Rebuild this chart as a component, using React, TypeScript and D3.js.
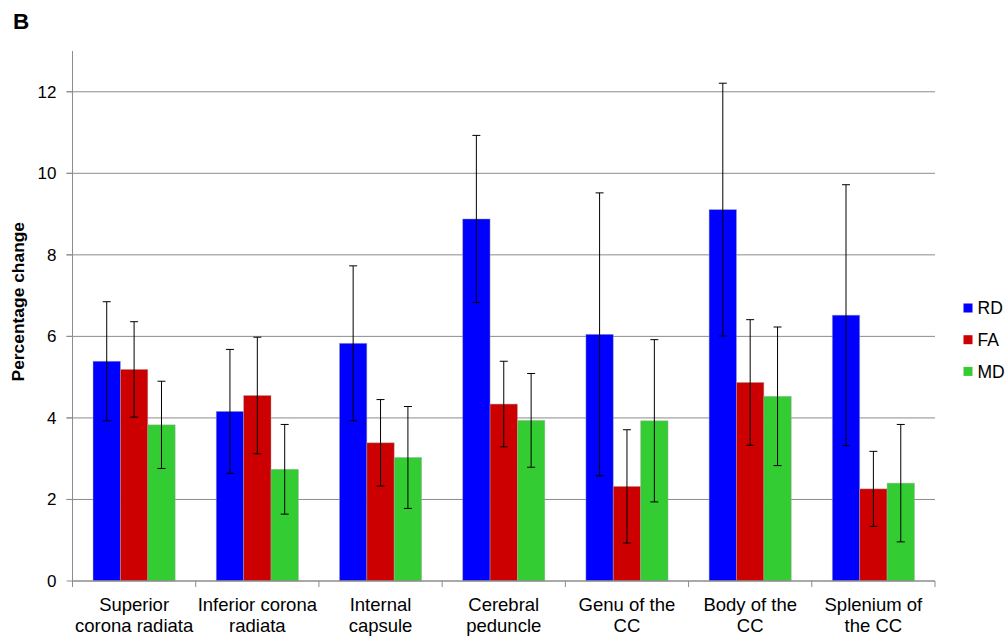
import React from "react";
import * as d3 from "d3";

// Regions of interest (two-line labels)
const categories: string[][] = [
  ["Superior", "corona radiata"],
  ["Inferior corona", "radiata"],
  ["Internal", "capsule"],
  ["Cerebral", "peduncle"],
  ["Genu of the", "CC"],
  ["Body of the", "CC"],
  ["Splenium of", "the CC"],
];

const seriesNames = ["RD", "FA", "MD"];
const seriesColors = ["#0000ff", "#cc0000", "#33cc33"];

// Mean percentage change per region
const rdValues = [5.39, 4.16, 5.83, 8.88, 6.05, 9.11, 6.52];
const faValues = [5.19, 4.55, 3.39, 4.34, 2.32, 4.87, 2.26];
const mdValues = [3.83, 2.74, 3.03, 3.94, 3.93, 4.53, 2.4];

// Error bar half-widths
const rdErrors = [1.46, 1.52, 1.9, 2.05, 3.47, 3.1, 3.2];
const faErrors = [1.17, 1.43, 1.06, 1.05, 1.39, 1.54, 0.92];
const mdErrors = [1.07, 1.1, 1.25, 1.15, 1.99, 1.7, 1.44];

const yTicks = [0, 2, 4, 6, 8, 10, 12];

const W = 1006;
const H = 637;
const plot = { left: 72.5, right: 935, top: 51, bottom: 581 };
const FONT = "'Liberation Sans', Arial, sans-serif";
const GRID = "#8c8c8c";

export default function App() {
  const values = [rdValues, faValues, mdValues];
  const errors = [rdErrors, faErrors, mdErrors];
  const idx = categories.map((_, i) => String(i));

  const x = d3
    .scaleBand<string>()
    .domain(idx)
    .range([plot.left, plot.right])
    .paddingInner(0)
    .paddingOuter(0);
  const step = x.bandwidth();
  const barW = step / 4.5;
  const inner = d3
    .scaleBand<string>()
    .domain(seriesNames)
    .range([0.75 * barW, 3.75 * barW]);

  const y = d3.scaleLinear().domain([0, 13]).range([plot.bottom, plot.top]);

  return (
    <svg
      width={W}
      height={H}
      style={{ position: "absolute", left: 0, top: 0, background: "#fff" }}
      fontFamily={FONT}
    >
      <rect width={W} height={H} fill="#fff" />
      {/* panel letter */}
      <text x={13} y={28.5} fontSize={22.5} fontWeight="bold" fill="#000">
        B
      </text>

      {/* horizontal gridlines */}
      {yTicks
        .filter((t) => t > 0)
        .map((t) => (
          <line
            key={"g" + t}
            x1={plot.left - 6}
            x2={plot.right}
            y1={y(t)}
            y2={y(t)}
            stroke={GRID}
            strokeWidth={1}
          />
        ))}

      {/* y axis */}
      <line x1={plot.left} x2={plot.left} y1={plot.top} y2={plot.bottom} stroke={GRID} strokeWidth={1} />
      {yTicks.map((t) => (
        <g key={"t" + t}>
          <line x1={plot.left - 6} x2={plot.left} y1={y(t)} y2={y(t)} stroke={GRID} />
          <text
            x={56.5}
            y={y(t)}
            dy="0.35em"
            textAnchor="end"
            fontSize={17}
            fill="#000"
          >
            {t}
          </text>
        </g>
      ))}
      <text
        transform={`translate(24,${(221.7 + 381.7) / 2}) rotate(-90)`}
        textAnchor="middle"
        fontSize={17.4}
        fontWeight="bold"
        fill="#000"
      >
        Percentage change
      </text>

      {/* bars */}
      {values.map((vals, s) =>
        vals.map((v, i) => (
          <rect
            key={`b${s}-${i}`}
            x={(x(String(i)) as number) + (inner(seriesNames[s]) as number)}
            y={y(v)}
            width={barW}
            height={y(0) - y(v)}
            fill={seriesColors[s]}
            stroke="rgba(170,170,170,0.55)"
            strokeWidth={0.8}
          />
        ))
      )}

      {/* error bars */}
      {values.map((vals, s) =>
        vals.map((v, i) => {
          const cx = (x(String(i)) as number) + (inner(seriesNames[s]) as number) + barW / 2;
          const hi = y(v + errors[s][i]);
          const lo = y(v - errors[s][i]);
          return (
            <g key={`e${s}-${i}`} stroke="#000" strokeWidth={1}>
              <line x1={cx} x2={cx} y1={hi} y2={lo} />
              <line x1={cx - 4} x2={cx + 4} y1={hi} y2={hi} />
              <line x1={cx - 4} x2={cx + 4} y1={lo} y2={lo} />
            </g>
          );
        })
      )}

      {/* x axis */}
      <line x1={plot.left} x2={plot.right} y1={plot.bottom} y2={plot.bottom} stroke={GRID} strokeWidth={1.5} />
      {d3.range(categories.length + 1).map((k) => {
        const xx = plot.left + k * step;
        return <line key={"xt" + k} x1={xx} x2={xx} y1={plot.bottom} y2={plot.bottom + 6} stroke={GRID} />;
      })}
      {categories.map((lines, i) => {
        const cx = (x(String(i)) as number) + step / 2;
        return (
          <text key={"xl" + i} x={cx} textAnchor="middle" fontSize={18.5} fill="#000">
            {lines.map((l, j) => (
              <tspan key={j} x={cx} y={611 + j * 21}>
                {l}
              </tspan>
            ))}
          </text>
        );
      })}

      {/* legend */}
      {seriesNames.map((n, s) => {
        const cy = 308 + s * 31.7;
        return (
          <g key={"lg" + n}>
            <rect x={963.5} y={cy - 4.5} width={9} height={9} fill={seriesColors[s]} />
            <text x={977.5} y={cy} dy="0.35em" fontSize={17.5} fill="#000">
              {n}
            </text>
          </g>
        );
      })}
    </svg>
  );
}
